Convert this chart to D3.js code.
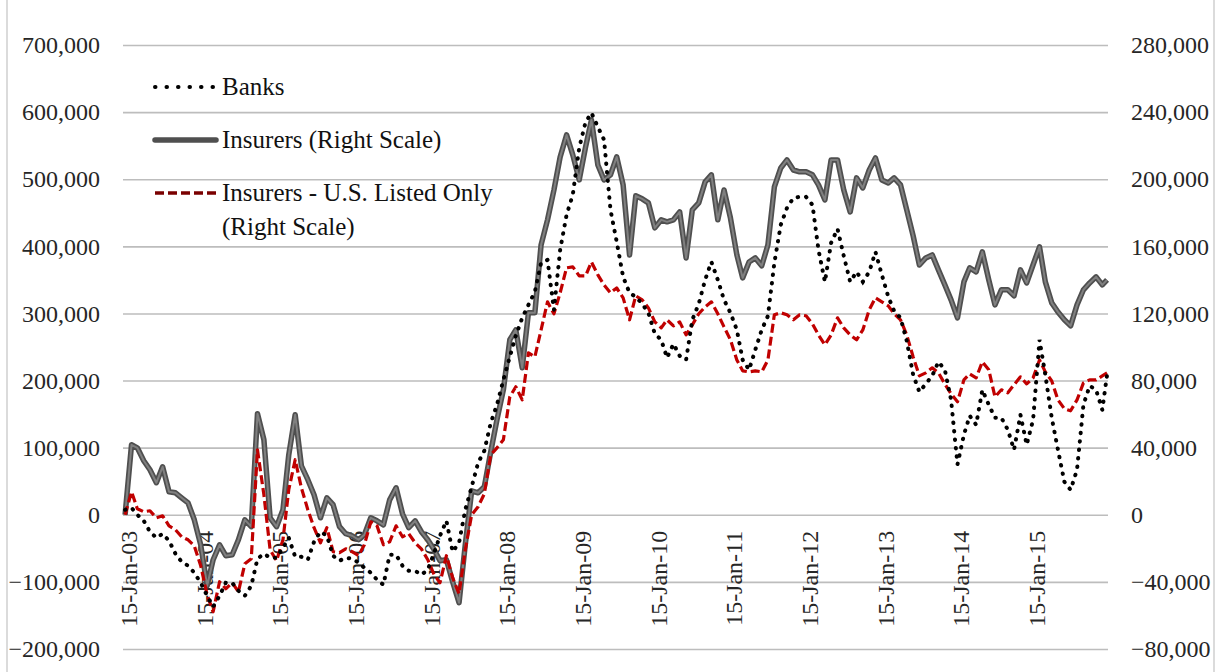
<!DOCTYPE html>
<html>
<head>
<meta charset="utf-8">
<script src="https://cdn.jsdelivr.net/npm/d3@7"></script>
<style>
  html, body { margin: 0; padding: 0; background: #fff; }
  svg { display: block; font-family: "Liberation Serif", "Times New Roman", serif; }
</style>
</head>
<body>
<svg id="chart" width="1220" height="672"></svg>
<script>
// weekly series, read off at roughly one point per month
const firstMonth = new Date(2003, 0, 1);
const lastMonth = new Date(2015, 11, 1);
const lastWeek = new Date(2015, 11, 24);

// Banks (left scale)
const banks = [
  7400, 10400, 0, -8900, -25300, -34300, -28300, -38700, -58100, -70000, -76000, -86400,
  -101300, -120700, -137000, -120700, -101300, -101300, -113200, -120700, -105800, -65500, -58100, -64100,
  -64100, -49200, -34300, -62600, -62600, -67000, -40200, -25300, -31300, -61100, -68500, -64100,
  -65500, -71500, -79000, -86400, -96800, -104300, -59600, -59600, -76000, -83400, -83400, -89400,
  -81900, -56600, -31300, -8900, -55100, -41700, 7400, 41700, 77500, 95300, 137000, 163900,
  201100, 235400, 266700, 293500, 312800, 332200, 375400, 379800, 305400, 394700, 446900, 476700,
  546700, 585400, 598800, 578000, 558600, 454300, 406700, 354500, 330700, 324700, 314300, 300900,
  269600, 260700, 233900, 254700, 236800, 230900, 290500, 314300, 350100, 376900, 350100, 320300,
  300900, 275600, 230900, 216000, 245800, 275600, 296400, 375400, 432000, 457300, 472200, 473700,
  473700, 461800, 394700, 347100, 405200, 426000, 385800, 347100, 362000, 347100, 362000, 391800,
  357500, 324700, 303900, 293500, 259200, 208500, 183200, 195100, 207000, 227900, 216000, 171300,
  75000, 119200, 147500, 134100, 186200, 163900, 144500, 144500, 126600, 96800, 149000, 104300,
  141500, 260700, 208500, 144500, 96800, 49200, 37200, 67000, 163900, 192200, 186200, 156400,
  208500
];

// Insurers (right scale)
const insurers = [
  0, 41700, 39900, 32200, 26800, 19100, 28600, 13700, 13100, 10100, 7100, -3000,
  -17900, -42300, -26800, -17900, -24400, -23800, -14900, -3000, -7100, 60200, 44700, -1800,
  -7100, 3000, 35700, 59600, 29200, 20900, 11900, -1800, 10100, 6000, -7100, -11300,
  -12500, -14900, -11900, -1800, -3600, -6000, 8900, 16100, 600, -7700, -3600, -10100,
  -14900, -20900, -27400, -26800, -39900, -52400, -17900, 14300, 13100, 16700, 37500, 56600,
  74500, 104300, 110200, 87600, 120400, 120400, 160900, 175800, 193600, 213300, 226400, 214500,
  199600, 219300, 235300, 208500, 199600, 202600, 213300, 196600, 154900, 190100, 188300, 185900,
  171000, 175800, 174600, 175800, 180500, 153100, 181700, 185900, 198400, 202600, 175800, 193600,
  176900, 154900, 141200, 150700, 153100, 148400, 160900, 195400, 206700, 211500, 205500, 204400,
  204400, 202600, 196600, 187700, 211500, 211500, 193600, 180500, 200800, 194800, 205500, 212700,
  199600, 197800, 200800, 196600, 181700, 166200, 148900, 153100, 154900, 146000, 137000, 128100,
  117400, 138800, 147200, 144800, 156700, 140000, 125100, 134100, 134100, 130500, 146000, 138200,
  149000, 159700, 138800, 126300, 120900, 116200, 112600, 125100, 134100, 138200, 141800, 137000,
  140000
];

// Insurers - U.S. listed only (right scale)
const insurersUS = [
  0, 13700, 3600, 1800, 2400, -1800, -600, -6600, -8900, -13100, -14900, -18500,
  -30400, -47700, -57800, -39900, -44100, -40500, -45900, -29200, -26200, 38700, 11900, -20900,
  -27400, -14900, 14900, 32800, 16100, 3000, -7700, -16700, -7700, -22000, -22600, -20300,
  -22000, -24400, -17900, -4200, -6600, -17900, -16100, -6600, -13100, -11300, -16700, -20300,
  -26800, -35700, -40500, -24400, -37500, -47100, -20900, 0, 4800, 12500, 35700, 39900,
  44700, 70300, 76300, 68500, 96500, 94100, 110200, 126900, 119800, 132300, 147200, 147800,
  142400, 142400, 150700, 143000, 137000, 132300, 135200, 129300, 116200, 130500, 128100, 123300,
  115000, 111400, 116200, 112600, 115000, 107200, 113200, 119800, 123900, 126900, 119800, 112000,
  104300, 92300, 85800, 85200, 85800, 85200, 92300, 119200, 120400, 119200, 116200, 119200,
  118600, 113800, 107200, 101300, 107200, 117400, 111400, 107200, 104300, 110200, 122100, 129300,
  126900, 124500, 119800, 116200, 107200, 94100, 82800, 84600, 87600, 84600, 78000, 72100,
  67300, 80400, 84000, 81600, 91200, 86400, 70300, 74500, 72700, 77500, 82200, 78000,
  81600, 92300, 85200, 79800, 68500, 63200, 62000, 68500, 78600, 80400, 80400, 82800,
  84600
];

const leftTicks = [-200000, -100000, 0, 100000, 200000, 300000, 400000, 500000, 600000, 700000];
const rightTicks = [-80000, -40000, 0, 40000, 80000, 120000, 160000, 200000, 240000, 280000];
const xTickLabels = ["15-Jan-03", "15-Jan-04", "15-Jan-05", "15-Jan-06", "15-Jan-07", "15-Jan-08",
  "15-Jan-09", "15-Jan-10", "15-Jan-11", "15-Jan-12", "15-Jan-13", "15-Jan-14", "15-Jan-15"];
const legendLabels = [["Banks"], ["Insurers (Right Scale)"], ["Insurers - U.S. Listed Only", "(Right Scale)"]];

const parseTick = d3.timeParse("%d-%b-%y");
const dates = d3.timeMonth.range(firstMonth, d3.timeMonth.offset(lastMonth, 1)).concat([lastWeek]);
const tickDates = xTickLabels.map(parseTick);

const svg = d3.select("#chart");
const plotLeft = 123, plotRight = 1108;

const x = d3.scaleTime()
  .domain([tickDates[0], tickDates[tickDates.length - 1]])
  .range([128, 1036]);
const yL = d3.scaleLinear().domain([-200000, 700000]).range([649, 45]);
const yR = d3.scaleLinear().domain([-80000, 280000]).range([649, 45]);

// chart frame edges
svg.append("line").attr("x1", 7).attr("x2", 7).attr("y1", 0).attr("y2", 672)
  .attr("stroke", "#cfcfcf").attr("stroke-width", 1.5);
svg.append("line").attr("x1", 1214).attr("x2", 1214).attr("y1", 0).attr("y2", 672)
  .attr("stroke", "#cfcfcf").attr("stroke-width", 1.5);

// gridlines
const grid = svg.append("g")
  .attr("transform", `translate(${plotLeft},0)`)
  .call(d3.axisLeft(yL).tickValues(leftTicks).tickSize(-(plotRight - plotLeft)).tickFormat(""));
grid.select(".domain").remove();
grid.selectAll("line").attr("stroke", "#bdbdbd").attr("stroke-width", 1.6);

// left axis labels
const fmt = d3.format(",");
const gL = svg.append("g")
  .attr("transform", `translate(${plotLeft},0)`)
  .call(d3.axisLeft(yL).tickValues(leftTicks).tickSize(0).tickPadding(23).tickFormat(fmt));
gL.select(".domain").remove();
gL.selectAll("text").attr("font-size", 24).attr("fill", "#262626")
  .attr("font-family", "Liberation Serif, Times New Roman, serif");

// right axis labels
const gR = svg.append("g")
  .attr("transform", `translate(${plotRight},0)`)
  .call(d3.axisRight(yR).tickValues(rightTicks).tickSize(0).tickPadding(23).tickFormat(fmt));
gR.select(".domain").remove();
gR.selectAll("text").attr("font-size", 24).attr("fill", "#262626")
  .attr("font-family", "Liberation Serif, Times New Roman, serif");

// date axis, labels just below the zero line
const gX = svg.append("g")
  .attr("transform", `translate(0,${yL(0)})`)
  .call(d3.axisBottom(x).tickValues(tickDates).tickSize(0).tickFormat(d3.timeFormat("%d-%b-%y")));
gX.select(".domain").remove();
gX.selectAll("text")
  .attr("transform", "rotate(-90)")
  .attr("x", -16).attr("y", 0).attr("dy", "0.35em")
  .attr("text-anchor", "end")
  .attr("font-size", 24).attr("fill", "#262626")
  .attr("font-family", "Liberation Serif, Times New Roman, serif");

// series
const lineL = d3.line().x((d, i) => x(dates[i])).y(d => yL(d));
const lineR = d3.line().x((d, i) => x(dates[i])).y(d => yR(d));

svg.append("path").datum(insurers).attr("d", lineR)
  .attr("fill", "none").attr("stroke", "#4f4f4f").attr("stroke-width", 5.5)
  .attr("stroke-linejoin", "round");
svg.append("path").datum(insurers).attr("d", lineR)
  .attr("fill", "none").attr("stroke", "#808080").attr("stroke-width", 2)
  .attr("stroke-linejoin", "round");

svg.append("path").datum(insurersUS).attr("d", lineR)
  .attr("fill", "none").attr("stroke", "#c00000").attr("stroke-width", 3.2)
  .attr("stroke-dasharray", "9 4").attr("stroke-linejoin", "round");

svg.append("path").datum(banks).attr("d", lineL)
  .attr("fill", "none").attr("stroke", "#000").attr("stroke-width", 4)
  .attr("stroke-dasharray", "0.5 8").attr("stroke-linecap", "round");

// legend
const legendStyles = [
  { stroke: "#000", width: 4, dash: "0.5 11", cap: "round" },
  { stroke: "#4f4f4f", width: 5.5, dash: null, cap: "round" },
  { stroke: "#7a0000", width: 3.5, dash: "9 4", cap: "butt" }
];
const legendY = [87, 140, 193];
const legend = svg.append("g");
legendLabels.forEach((lines, k) => {
  const s = legendStyles[k];
  const l = legend.append("line")
    .attr("x1", 155).attr("x2", 216).attr("y1", legendY[k]).attr("y2", legendY[k])
    .attr("stroke", s.stroke).attr("stroke-width", s.width).attr("stroke-linecap", s.cap);
  if (s.dash) l.attr("stroke-dasharray", s.dash);
  const t = legend.append("text")
    .attr("x", 222).attr("y", legendY[k]).attr("dy", "0.33em")
    .attr("font-size", 25).attr("fill", "#111");
  lines.forEach((txt, j) => {
    t.append("tspan").attr("x", 222).attr("dy", j === 0 ? "0.33em" : "1.33em").text(txt);
  });
});
</script>
</body>
</html>
